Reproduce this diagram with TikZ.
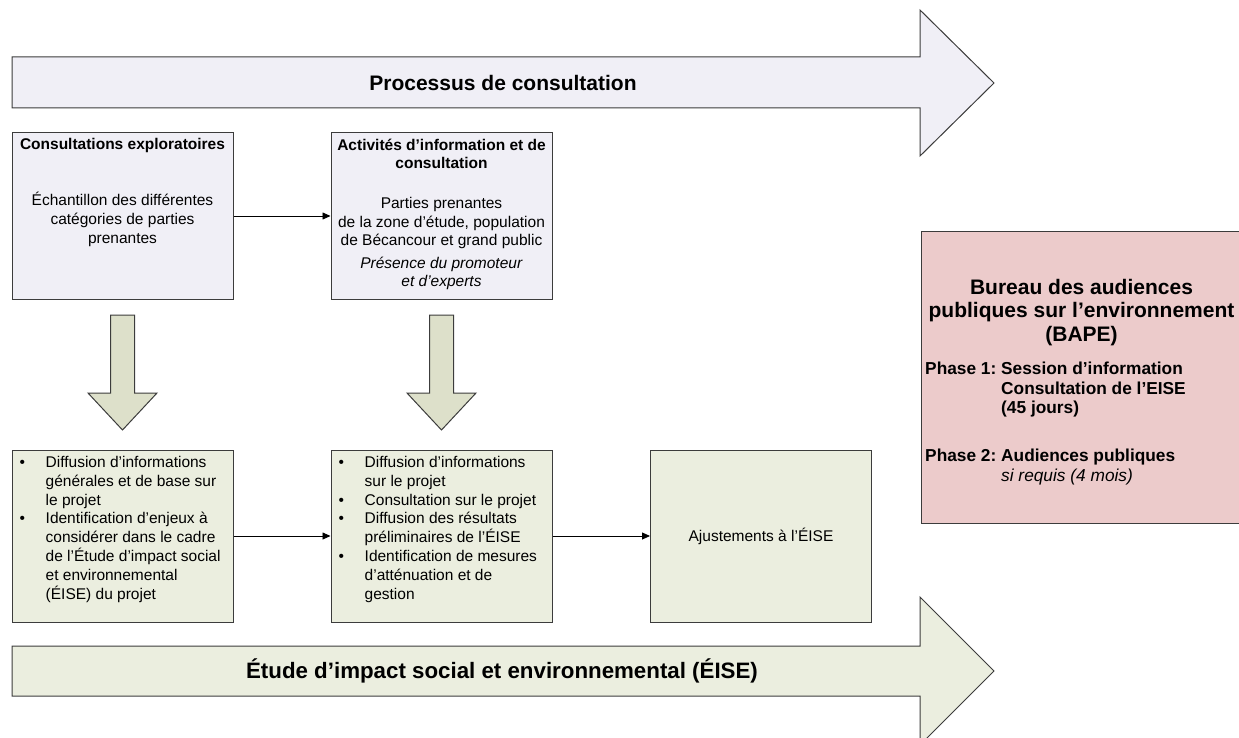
\documentclass[tikz,border=0pt]{standalone}
\usepackage{fontspec}
\setmainfont{Liberation Sans}
\usetikzlibrary{arrows.meta,calc,positioning}

\definecolor{lavfill}{RGB}{240,239,246}
\definecolor{sagefill}{RGB}{235,238,223}
\definecolor{sagedark}{RGB}{221,224,202}
\definecolor{bapefill}{RGB}{236,203,203}
\definecolor{edgegray}{RGB}{60,60,60}
\newcommand{\bodyfont}{\fontsize{15.5}{18.7}\selectfont}
\newcommand{\phasefont}{\fontsize{17.3}{19.8}\selectfont}

\begin{document}
\begin{tikzpicture}[x=1pt,y=-1pt,>={Triangle[length=8pt,width=7pt]},
  box/.style={draw=edgegray,line width=1pt,minimum width=221pt,minimum height=#1,inner sep=0pt},
  bigarrow/.style={draw=edgegray,line width=1pt,line join=miter},
  bigtext/.style={font=\fontsize{#1}{25}\selectfont\bfseries},
  boxtext/.style={font=\bodyfont,align=center,inner sep=0pt},
  listtext/.style={font=\bodyfont,anchor=north west,inner sep=0pt}]
\useasboundingbox (0,0) rectangle (1239,738);
% process arrows
\draw[bigarrow,fill=lavfill] (12,57) -- (920,57) -- (920,10) -- (994,83) -- (920,156) -- (920,108) -- (12,108) -- cycle;
\node[bigtext=21] (consult) at (503,83) {Processus de consultation};
\draw[bigarrow,fill=sagefill] (12,646) -- (920,646) -- (920,597) -- (994,671) -- (920,745) -- (920,696) -- (12,696) -- cycle;
\node[bigtext=22.3] (eise) at (502,671) {Étude d’impact social et environnemental (ÉISE)};
% consultation boxes
\node[box=166pt,fill=lavfill] (explo) at (122.5,216) {};
\node[box=166pt,fill=lavfill] (info) at (441.5,216) {};
\node[boxtext,below=6pt of explo.north] (explotext) {\textbf{Consultations exploratoires}\\[37pt]
  Échantillon des différentes\\catégories de parties\\prenantes};
\node[boxtext,below=6pt of info.north] (infotext) {\textbf{Activités d’information et de}\\\textbf{consultation}\\[21pt]
  Parties prenantes\\de la zone d’étude, population\\de Bécancour et grand public\\[3.5pt]
  \textit{Présence du promoteur}\\\textit{et d’experts}};
% down arrows
\foreach \cx in {122.5,441.5}{
  \draw[bigarrow,fill=sagedark] (\cx-12,315) -- (\cx+12,315) -- (\cx+12,393) -- (\cx+34.5,393)
    -- (\cx,430) -- (\cx-34.5,393) -- (\cx-12,393) -- cycle;
}
% study boxes
\node[box=172pt,fill=sagefill] (general) at (122.5,536) {};
\node[box=172pt,fill=sagefill] (prelim) at (441.5,536) {};
\node[box=172pt,fill=sagefill,font=\bodyfont] (ajust) at (761,536) {Ajustements à l’ÉISE};
\node[listtext] (generaltext) at ($(general.north west)+(5,5)$) {\begin{tabular}{@{}p{29pt}@{}l@{}}
  \hspace{3pt}\textbullet & Diffusion d’informations\\
   & générales et de base sur\\
   & le projet\\
  \hspace{3pt}\textbullet & Identification d’enjeux à\\
   & considérer dans le cadre\\
   & de l’Étude d’impact social\\
   & et environnemental\\
   & (ÉISE) du projet
  \end{tabular}};
\node[listtext] (prelimtext) at ($(prelim.north west)+(5,5)$) {\begin{tabular}{@{}p{29pt}@{}l@{}}
  \hspace{3pt}\textbullet & Diffusion d’informations\\
   & sur le projet\\
  \hspace{3pt}\textbullet & Consultation sur le projet\\
  \hspace{3pt}\textbullet & Diffusion des résultats\\
   & préliminaires de l’ÉISE\\
  \hspace{3pt}\textbullet & Identification de mesures\\
   & d’atténuation et de\\
   & gestion
  \end{tabular}};
% connectors
\draw[->,line width=0.8pt] (explo) -- (info);
\draw[->,line width=0.8pt] (general) -- (prelim);
\draw[->,line width=0.8pt] (prelim) -- (ajust);
% BAPE
\node[draw=edgegray,line width=1pt,fill=bapefill,minimum width=320pt,minimum height=292pt,
  anchor=north west,inner sep=0pt] (bape) at (921,231) {};
\node[align=center,inner sep=0pt,font=\fontsize{21}{23.5}\selectfont\bfseries,below=48pt of bape.north] (bapetitle)
  {Bureau des audiences\\publiques sur l’environnement\\(BAPE)};
\node[listtext,font=\phasefont\bfseries] (phases) at ($(bape.north west)+(4,129.3)$) {\begin{tabular}{@{}p{76pt}@{}l@{}}
  Phase 1: & Session d’information\\
   & Consultation de l’EISE\\
   & (45 jours)\\[27.6pt]
  Phase 2: & Audiences publiques\\
   & \normalfont\phasefont\itshape si requis (4 mois)
  \end{tabular}};
\end{tikzpicture}
\end{document}
